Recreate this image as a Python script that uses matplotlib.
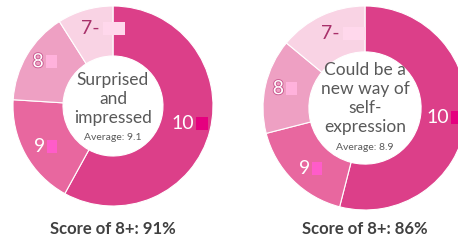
import numpy as np
import matplotlib
matplotlib.use("Agg")
import matplotlib.pyplot as plt
from matplotlib.patches import Rectangle
import matplotlib.patheffects as pe

plt.rcParams['font.family'] = ['Lato', 'DejaVu Sans']

# ---- data ----
categories = ["10", "9", "8", "7-"]
left_values = [58, 18, 15, 9]
right_values = [54, 17, 15, 14]
left_center = ["Surprised", "and", "impressed"]
right_center = ["Could be a", "new way of", "self-", "expression"]
left_avg = "Average: 9.1"
right_avg = "Average: 8.9"
left_title = "Score of 8+: 91%"
right_title = "Score of 8+: 86%"

# ---- style ----
seg_colors = ["#dc3f89", "#e8679f", "#eea0c3", "#f9d3e4"]
key_colors = ["#e5007f", "#ff5cc9", "#ffb2dc", "#ffd8ec"]
label_colors = ["white", "white", "white", "#a8306a"]
label_r = [0.72, 0.84, 0.87, 0.81]
W, H = 458, 240
fig = plt.figure(figsize=(W / 100, H / 100), dpi=100)


def donut(cx, cy, R, hole, values, center_lines, avg, title, line_y, avg_y):
    ax = fig.add_axes([(cx - R) / W, (H - cy - R) / H, 2 * R / W, 2 * R / H])
    wedges, _ = ax.pie(values, colors=seg_colors, startangle=90, counterclock=False,
                       radius=1, wedgeprops=dict(width=1 - hole, edgecolor="white", linewidth=0.8))
    ax.set_xlim(-1, 1)
    ax.set_ylim(-1, 1)
    ax.set_aspect("equal")
    ax.axis("off")
    key_w = [0.12, 0.10, 0.11, 0.22]
    for i, w in enumerate(wedges):
        ang = np.deg2rad((w.theta1 + w.theta2) / 2)
        x, y = label_r[i] * np.cos(ang), label_r[i] * np.sin(ang)
        txt = categories[i]
        kw = {}
        if i == 2:
            kw["path_effects"] = [pe.withStroke(linewidth=1.3, foreground="#c9588f")]
        ax.text(x, y, txt, ha="center", va="center", fontsize=14,
                color=label_colors[i], zorder=5, **kw)
        tw = 0.13 if len(txt) == 1 else 0.24
        ax.add_patch(Rectangle((x + tw / 2 + 0.01, y - 0.065), key_w[i], 0.13,
                               facecolor=key_colors[i], edgecolor="none", zorder=4,
                               clip_on=False))
    for s, ly in zip(center_lines, line_y):
        fig.text(cx / W, 1 - ly / H, s, ha="center", va="center", fontsize=12.5, color="#595959")
    fig.text(cx / W, 1 - avg_y / H, avg, ha="center", va="center", fontsize=7.5, color="#595959")
    fig.text(cx / W, 1 - 229 / H, title, ha="center", va="center", fontsize=12,
             fontweight="bold", color="#404040")


donut(113, 106, 100, 0.5, left_values, left_center, left_avg, left_title,
      [80, 99, 118], 137)
donut(365, 108, 102, 0.55, right_values, right_center, right_avg, right_title,
      [70, 89, 108, 127], 148)

fig.savefig("out.png", dpi=100, facecolor="white")
